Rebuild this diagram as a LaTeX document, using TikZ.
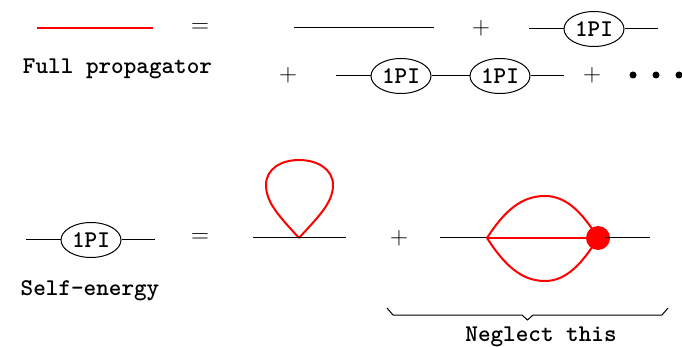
\documentclass[tikz,border=0pt]{standalone}
\usetikzlibrary{shapes.geometric}
\tikzset{every path/.style={line width=1pt}}
\tikzset{
  blob/.style={draw,ellipse,minimum width=60pt,minimum height=35pt,inner sep=0pt,font=\ttfamily\bfseries\fontsize{24}{24}\selectfont},
  lbl/.style={inner sep=0pt,font=\ttfamily\bfseries\fontsize{24}{24}\selectfont},
  sign/.style={inner sep=0pt,font=\fontsize{37}{37}\selectfont},
  eqsign/.style={inner sep=0pt,font=\fontsize{42}{42}\selectfont},
  dotmark/.style={circle,fill=black,inner sep=0pt,minimum size=7pt},
  redline/.style={red,line width=2pt},
}

\begin{document}
\begin{tikzpicture}[x=1pt,y=-1pt]
    \useasboundingbox (0,0) rectangle (682,347);

    % full propagator
    \coordinate (fullA) at (37,28);
    \coordinate (fullB) at (153,28);
    \draw[redline] (fullA) -- (fullB);
    \node[lbl] (fullLabel) at (117.5,69) {Full propagator};
    \node[eqsign] (eqTop) at (200,28) {$=$};

    \coordinate (bareA) at (294,28);
    \coordinate (bareB) at (434,28);
    \draw (bareA) -- (bareB);
    \node[sign] (plusA) at (481,28) {$+$};

    \node[blob] (piA) at (594,29) {1PI};
    \coordinate (piAl) at (529,29);
    \coordinate (piAr) at (658,29);
    \draw (piAl) -- (piA);
    \draw (piA) -- (piAr);

    \node[sign] (plusB) at (288,75) {$+$};
    \node[blob] (piB) at (401,76) {1PI};
    \node[blob] (piC) at (500,76) {1PI};
    \coordinate (piBl) at (336,76);
    \coordinate (piCr) at (564,76);
    \draw (piBl) -- (piB);
    \draw (piB) -- (piC);
    \draw (piC) -- (piCr);
    \node[sign] (plusC) at (592,75) {$+$};
    \node[dotmark] (dotA) at (633,75) {};
    \node[dotmark] (dotB) at (656,75) {};
    \node[dotmark] (dotC) at (679,75) {};

    % self-energy
    \node[blob] (piD) at (91,240) {1PI};
    \coordinate (piDl) at (26,240);
    \coordinate (piDr) at (155,240);
    \draw (piDl) -- (piD);
    \draw (piD) -- (piDr);
    \node[lbl] (selfLabel) at (90,291) {Self-energy};
    \node[eqsign] (eqBot) at (200,238) {$=$};

    \coordinate (tadL) at (253,238);
    \coordinate (tadV) at (299,238);
    \coordinate (tadR) at (346,238);
    \draw[redline] (tadV) .. controls (280,217) and (266,203) .. (266,185)
      .. controls (266,169) and (281,160) .. (299,160)
      .. controls (317,160) and (333,169) .. (333,185)
      .. controls (333,203) and (318,217) .. (tadV);
    \draw (tadL) -- (tadR);

    \node[sign] (plusD) at (399,238) {$+$};

    \coordinate (sunL) at (440,238);
    \coordinate (sunV) at (487,238);
    \coordinate (sunR) at (650,238);
    \node[circle,fill=red,inner sep=0pt,minimum size=24pt] (sunDot) at (598,238) {};
    \coordinate (sunIn) at (605,238);
    \draw (sunL) -- (sunV);
    \draw (sunIn) -- (sunR);
    \draw[redline] (sunV) -- (sunDot);
    \draw[redline] (sunV) .. controls (505,210) and (522,196) .. (545,196)
      .. controls (566,196) and (582,212) .. (sunDot.center);
    \draw[redline] (sunV) .. controls (505,266) and (522,281) .. (545,281)
      .. controls (566,281) and (582,264) .. (sunDot.center);

    % brace
    \coordinate (brA) at (387,308);
    \coordinate (brB) at (393,315);
    \coordinate (brC) at (522,315);
    \coordinate (brD) at (527.5,320);
    \coordinate (brE) at (533,315);
    \coordinate (brF) at (662,315);
    \coordinate (brG) at (668,308);
    \draw (brA) -- (brB) -- (brC) -- (brD) -- (brE) -- (brF) -- (brG);
    \node[lbl] (neglectLabel) at (541,337) {Neglect this};
\end{tikzpicture}
\end{document}
